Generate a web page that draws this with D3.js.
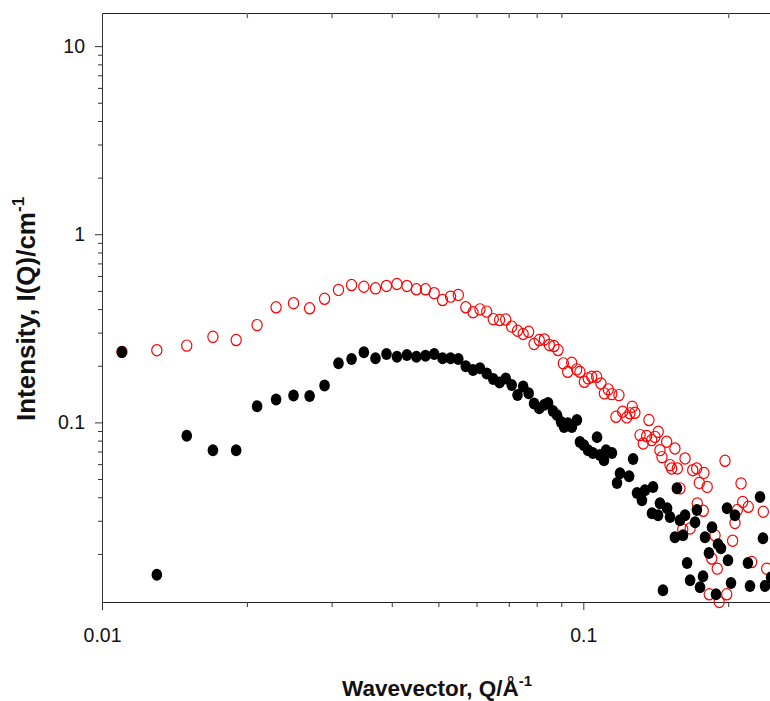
<!DOCTYPE html>
<html>
<head>
<meta charset="utf-8">
<title>SANS intensity</title>
<script src="https://cdn.jsdelivr.net/npm/d3@7"></script>
<style>
    body { margin: 0; background: white; }
    text { font-family: "Liberation Sans", Arial, sans-serif; }
</style>
</head>
<body>
<div class="chart"></div>
<script>
// filled black circles
var blackQ = [0.011, 0.013, 0.015, 0.017, 0.019, 0.021, 0.023, 0.025, 0.027, 0.029,
    0.031, 0.033, 0.035, 0.037, 0.039, 0.041, 0.043, 0.045, 0.047, 0.049,
    0.051, 0.053, 0.055, 0.057, 0.059, 0.061, 0.063, 0.065, 0.067, 0.069,
    0.071, 0.073, 0.075, 0.077, 0.079, 0.081, 0.083,
    0.0845, 0.0865, 0.0882, 0.0899, 0.0912, 0.0929, 0.0947, 0.0970, 0.0984, 0.1003,
    0.1023, 0.1047, 0.1068, 0.1083, 0.1104, 0.1115, 0.1147, 0.1175, 0.1192, 0.1245,
    0.1269, 0.1293, 0.1343, 0.1396, 0.1324, 0.1389, 0.1430, 0.1443, 0.1493, 0.1514,
    0.1565, 0.1627, 0.1588, 0.1722, 0.1707, 0.1550, 0.1611, 0.1851, 0.1790, 0.1905,
    0.1932, 0.1824, 0.1989, 0.2066, 0.2329, 0.2362, 0.1643, 0.1773, 0.1667, 0.1748,
    0.1464, 0.1998, 0.2198, 0.2027, 0.2220, 0.2385, 0.1887, 0.2455];
var blackI = [0.237, 0.0155, 0.085, 0.0712, 0.0712, 0.122, 0.1325, 0.139, 0.138, 0.157,
    0.206, 0.217, 0.236, 0.219, 0.231, 0.223, 0.228, 0.223, 0.226, 0.231,
    0.219, 0.219, 0.217, 0.199, 0.190, 0.194, 0.182, 0.170, 0.163, 0.171,
    0.158, 0.140, 0.155, 0.143, 0.126, 0.119, 0.124,
    0.1267, 0.1148, 0.1093, 0.1004, 0.0944, 0.0991, 0.0944, 0.1029, 0.0786, 0.0757,
    0.0712, 0.0687, 0.0835, 0.0670, 0.0630, 0.0712, 0.0687, 0.0476, 0.0537, 0.0518,
    0.0638, 0.0421, 0.0436, 0.0453, 0.0386, 0.0329, 0.0321, 0.0372, 0.0350, 0.0314,
    0.0447, 0.0321, 0.0302, 0.0342, 0.0295, 0.0245, 0.0251, 0.0277, 0.0245, 0.0225,
    0.0214, 0.0202, 0.0350, 0.0321, 0.0401, 0.0242, 0.0179, 0.0152, 0.0145, 0.0133,
    0.0128, 0.0185, 0.0179, 0.0140, 0.0135, 0.0135, 0.0122, 0.0150];

// open red circles
var redQ = [0.011, 0.013, 0.015, 0.017, 0.019, 0.021, 0.023, 0.025, 0.027, 0.029,
    0.031, 0.033, 0.035, 0.037, 0.039, 0.041, 0.043, 0.045, 0.047, 0.049,
    0.051, 0.053, 0.055, 0.057, 0.059, 0.061, 0.063, 0.065, 0.067, 0.069,
    0.071, 0.073, 0.075, 0.077, 0.079, 0.081, 0.083, 0.085,
    0.0869, 0.0886, 0.0909, 0.0928, 0.0946, 0.0969, 0.0984, 0.1005, 0.1024, 0.1041,
    0.1066, 0.1088, 0.1106, 0.1127, 0.1146, 0.1186, 0.1169, 0.1207, 0.1231, 0.1250,
    0.1264, 0.1280, 0.1369, 0.1312, 0.1332, 0.1354, 0.1387, 0.1409, 0.1431, 0.1443,
    0.1457, 0.1490, 0.1550, 0.1514, 0.1526, 0.1568, 0.1627, 0.1688, 0.1720, 0.1781,
    0.1742, 0.1809, 0.1970, 0.2127, 0.2144, 0.2202, 0.2366, 0.1588, 0.1725, 0.1775,
    0.2066, 0.2089, 0.1667, 0.1609, 0.1878, 0.2043, 0.1849, 0.1898, 0.2238, 0.2405,
    0.1827, 0.1916, 0.1986];
var redI = [0.237, 0.242, 0.256, 0.285, 0.274, 0.329, 0.409, 0.430, 0.404, 0.454,
    0.506, 0.537, 0.526, 0.516, 0.531, 0.544, 0.531, 0.510, 0.510, 0.486,
    0.447, 0.466, 0.476, 0.409, 0.385, 0.399, 0.388, 0.354, 0.350, 0.352,
    0.323, 0.307, 0.295, 0.303, 0.261, 0.274, 0.276, 0.258,
    0.2546, 0.2424, 0.2060, 0.1858, 0.2075, 0.1914, 0.1858, 0.1644, 0.1714, 0.1748,
    0.1748, 0.1612, 0.1427, 0.1498, 0.1414, 0.1397, 0.1071, 0.1139, 0.1063, 0.1117,
    0.1211, 0.1125, 0.1029, 0.0856, 0.0773, 0.0846, 0.0805, 0.0838, 0.0891, 0.0712,
    0.0654, 0.0789, 0.0727, 0.0593, 0.0569, 0.0569, 0.0643, 0.0557, 0.0569, 0.0539,
    0.0477, 0.0454, 0.0625, 0.0474, 0.0378, 0.0356, 0.0335, 0.0446, 0.0371, 0.0339,
    0.0292, 0.0342, 0.0273, 0.0270, 0.0251, 0.0235, 0.0189, 0.0167, 0.0181, 0.0167,
    0.0122, 0.0111, 0.0122];

var yMajor = [0.1, 1, 10];
var yMinor = [0.02, 0.03, 0.04, 0.05, 0.06, 0.07, 0.08, 0.09,
    0.2, 0.3, 0.4, 0.5, 0.6, 0.7, 0.8, 0.9, 2, 3, 4, 5, 6, 7, 8, 9];
var xMajor = [0.01, 0.1];
var xMinor = [0.02, 0.03, 0.04, 0.05, 0.06, 0.07, 0.08, 0.09, 0.2];

var width = 770, height = 701;
var plotLeft = 102, plotTop = 13, plotBottom = 602;

var x = d3.scaleLog().domain([0.01, 0.3]).range([plotLeft, plotLeft + 481.3 * Math.log10(30)]);
var y = d3.scaleLog().domain([0.0111, 15]).range([plotBottom, plotTop]);

var svg = d3.select('.chart').append('svg')
    .attr('width', width)
    .attr('height', height);

function fmt(d) { return d >= 1 ? d3.format('d')(d) : String(d); }

// left axis
svg.append('g').attr('transform', 'translate(' + plotLeft + ',0)')
    .call(d3.axisLeft(y).tickValues(yMajor).tickSize(7).tickSizeOuter(0).tickPadding(10).tickFormat(fmt))
    .call(function(g) {
        g.select('.domain').attr('stroke', '#333');
        g.selectAll('.tick line').attr('stroke', '#333');
        g.selectAll('text').attr('font-size', '19.5px').attr('fill', '#111');
    });
svg.append('g').attr('transform', 'translate(' + plotLeft + ',0)')
    .call(d3.axisLeft(y).tickValues(yMinor).tickSize(4).tickFormat(''))
    .call(function(g) {
        g.select('.domain').remove();
        g.selectAll('.tick line').attr('stroke', '#333');
    });

// bottom axis
svg.append('g').attr('transform', 'translate(0,' + plotBottom + ')')
    .call(d3.axisBottom(x).tickValues(xMajor).tickSize(8).tickSizeOuter(0).tickPadding(18).tickFormat(fmt))
    .call(function(g) {
        g.select('.domain').attr('stroke', '#222');
        g.selectAll('.tick line').attr('stroke', '#333');
        g.selectAll('text').attr('font-size', '19.5px').attr('fill', '#111');
    });
svg.append('g').attr('transform', 'translate(0,' + plotBottom + ')')
    .call(d3.axisBottom(x).tickValues(xMinor).tickSize(5).tickFormat(''))
    .call(function(g) {
        g.select('.domain').remove();
        g.selectAll('.tick line').attr('stroke', '#333');
    });

// top frame with inward minor ticks
svg.append('g').attr('transform', 'translate(0,' + plotTop + ')')
    .call(d3.axisTop(x).tickValues(xMinor).tickSize(-5).tickSizeOuter(0).tickFormat(''))
    .call(function(g) {
        g.select('.domain').attr('stroke', '#222');
        g.selectAll('.tick line').attr('stroke', '#666').attr('stroke-width', 1.3);
    });

// red open circles
svg.append('g').selectAll('ellipse')
    .data(d3.zip(redQ, redI))
    .enter().append('ellipse')
    .attr('cx', function(d) { return x(d[0]); })
    .attr('cy', function(d) { return y(d[1]); })
    .attr('rx', 5.1)
    .attr('ry', 5.6)
    .attr('fill', 'none')
    .attr('stroke', '#ff0000')
    .attr('stroke-width', 1.2);

// black filled circles
svg.append('g').selectAll('ellipse')
    .data(d3.zip(blackQ, blackI))
    .enter().append('ellipse')
    .attr('cx', function(d) { return x(d[0]); })
    .attr('cy', function(d) { return y(d[1]); })
    .attr('rx', 5.3)
    .attr('ry', 6)
    .attr('fill', '#000');

// axis titles
var xt = svg.append('text')
    .attr('x', 342).attr('y', 696)
    .attr('font-size', '22.5px').attr('font-weight', 'bold').attr('fill', '#111')
    .text('Wavevector, Q/Å');
xt.append('tspan').attr('dy', -10).attr('font-size', '15px').text('-1');

var yt = svg.append('text')
    .attr('transform', 'translate(35,421) rotate(-90)')
    .attr('font-size', '26px').attr('font-weight', 'bold').attr('fill', '#111')
    .text('Intensity, I(Q)/cm');
yt.append('tspan').attr('dy', -11).attr('font-size', '17px').text('-1');
</script>
</body>
</html>
